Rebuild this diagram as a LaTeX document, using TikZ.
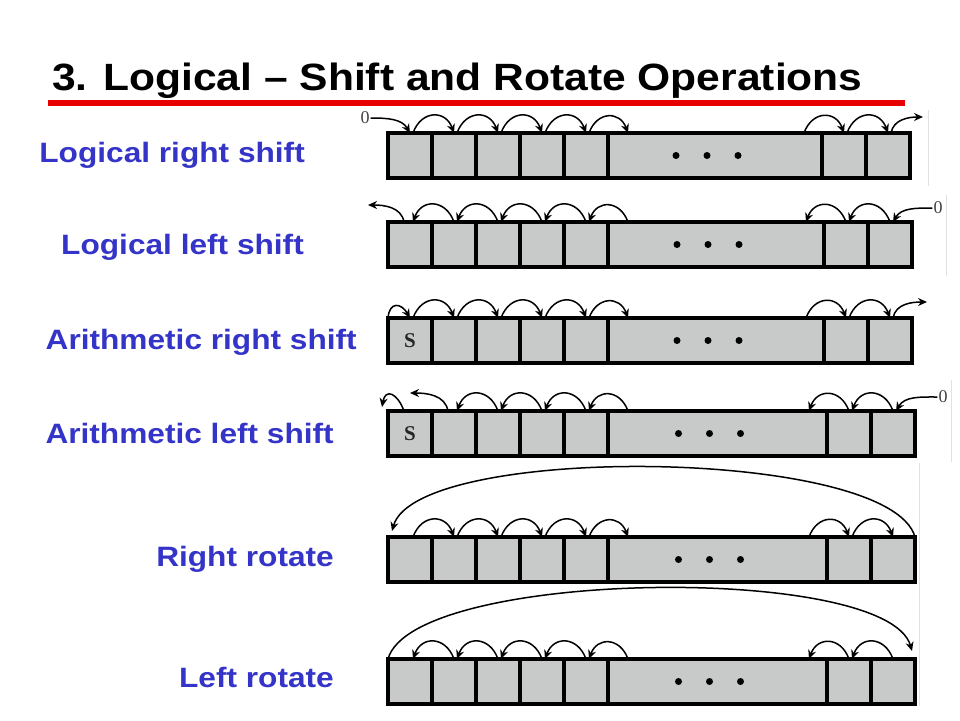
\documentclass[tikz,border=0pt]{standalone}
\usepackage{fontspec}
\setmainfont{Liberation Sans}
\newfontfamily\bitfont{Liberation Serif}
\usetikzlibrary{arrows.meta, positioning, calc}
\definecolor{labelblue}{HTML}{3434C8}
\definecolor{rulered}{HTML}{E60000}
\definecolor{cellgray}{HTML}{C8C9C9}
\definecolor{cropgray}{HTML}{E2E2E2}

\begin{document}
\begin{tikzpicture}[
    x=1pt, y=-1pt,
    cell/.style={rectangle, draw=black, fill=cellgray, line width=3.2pt,
                 minimum width=44pt, minimum height=45pt, inner sep=0pt,
                 outer sep=0pt, anchor=north west},
    op/.style={anchor=base east, inner sep=0pt, text=labelblue,
               font=\bfseries\fontsize{28}{30}\selectfont},
    bit/.style={-{Stealth[length=9pt, width=8pt]}, line width=1.5pt},
    hopright/.style={out=70, in=110, looseness=1.55},
    hopleft/.style={out=110, in=70, looseness=1.55},
    zero/.style={font=\bitfont\fontsize{18}{18}\selectfont, text=black!75, inner sep=1pt},
    signbit/.style={font=\bitfont\bfseries\fontsize{21}{21}\selectfont, text=black!85}
]
\useasboundingbox (0,0) rectangle (960,720);

\node[anchor=base west, inner sep=0pt, font=\bfseries\fontsize{38}{40}\selectfont] (title)
    at (52,90) {\scalebox{1.12}[1]{3. Logical – Shift and Rotate Operations}};
\draw[rulered, line width=6pt] (48,103) -- (905,103);

\node[op] (lrs) at (305,162) {\scalebox{1.13}[1]{Logical right shift}};
\node[op] (lls) at (304,254) {\scalebox{1.13}[1]{Logical left shift}};
\node[op] (ars) at (357,349) {\scalebox{1.13}[1]{Arithmetic right shift}};
\node[op] (als) at (334,443) {\scalebox{1.13}[1]{Arithmetic left shift}};
\node[op] (rrot) at (334,566) {\scalebox{1.13}[1]{Right rotate}};
\node[op] (lrot) at (334,687) {\scalebox{1.13}[1]{Left rotate}};

% registers
\foreach \row/\top/\w in {1/133/214, 2/222/216, 3/318/216, 4/411/219, 5/537/219, 6/659/219} {
  \node[cell] (r\row c1) at (388,\top) {};
  \foreach \c [remember=\c as \prev (initially 1)] in {2,...,5}
    \node[cell, right=0pt of r\row c\prev] (r\row c\c) {};
  \node[cell, minimum width=\w pt, right=0pt of r\row c5] (r\row big) {};
  \node[cell, right=0pt of r\row big] (r\row c6) {};
  \node[cell, right=0pt of r\row c6] (r\row c7) {};
  \foreach \d in {-39,-8,23}
    \fill ($(r\row big.center)+(\d,0)$) circle (3.5pt);
  \foreach \c in {1,...,5}
    \coordinate (r\row p\c) at (r\row c\c.north);
  \coordinate (r\row p6) at ($(r\row big.north west)+(20,0)$);
  \coordinate (r\row p7) at ($(r\row big.north east)+(-21,0)$);
  \coordinate (r\row p8) at (r\row c6.north);
  \coordinate (r\row p9) at (r\row c7.north);
}

\node[signbit] (s3) at (r3c1) {S};
\node[signbit] (s4) at (r4c1) {S};

% bits moving right
\foreach \row in {1,3,5}
  \foreach \a/\b in {1/2,2/3,3/4,4/5,5/6,7/8,8/9}
    \draw[bit] ($(r\row p\a)+(3,0)$) to[hopright] (r\row p\b);
% bits moving left
\foreach \row in {2,6}
  \foreach \a/\b in {2/1,3/2,4/3,5/4,6/5,8/7,9/8}
    \draw[bit] (r\row p\a) to[hopleft] ($(r\row p\b)+(3,0)$);
\foreach \a/\b in {3/2,4/3,5/4,6/5,8/7,9/8}
  \draw[bit] (r4p\a) to[hopleft] ($(r4p\b)+(3,0)$);

% logical right shift
\node[zero] (zero1) at (365,118) {0};
\coordinate (out1) at (923,117);
\draw[bit] (zero1.east) to[out=0, in=120] (r1p1);
\draw[bit] ($(r1p9)+(3,0)$) to[out=80, in=180] (out1);

% logical left shift
\node[zero] (zero2) at (938,208) {0};
\coordinate (out2) at (368,205);
\draw[bit] (zero2.west) to[out=180, in=60] ($(r2p9)+(3,0)$);
\draw[bit] ($(r2p1)+(-6,0)$) to[out=100, in=0] (out2);

% arithmetic right shift
\coordinate (out3) at (927,302);
\draw[bit] (r3c1.north west) to[out=85, in=120, looseness=2] (r3p1);
\draw[bit] ($(r3p9)+(3,0)$) to[out=80, in=180] (out3);

% arithmetic left shift
\node[zero] (zero4) at (943,397) {0};
\coordinate (out4) at (410,393);
\coordinate (back4) at ($(r4c1.north west)+(-6,-4)$);
\draw[bit] (zero4.west) to[out=180, in=60] ($(r4p9)+(3,0)$);
\draw[bit] ($(r4p1)+(-6,0)$) to[out=110, in=80, looseness=2.2] (back4);
\draw[bit] ($(r4p2)+(-6,0)$) to[out=100, in=0] (out4);

% rotations
\draw[bit] (r5c7.north east) .. controls +(-25,-90) and +(25,-88) .. ($(r5c1.north west)+(4,-6)$);
\draw[bit] (r6c1.north west) .. controls +(25,-90) and +(-25,-88) .. ($(r6c7.north east)+(-3,-8)$);

% crop edges of the pasted figures
\draw[cropgray, line width=1pt] (928,110) -- (928,186);
\draw[cropgray, line width=1pt] (946,195) -- (946,276);
\draw[cropgray, line width=1pt] (951,380) -- (951,462);
\draw[cropgray, line width=1pt] (919,463) -- (919,706);

\end{tikzpicture}
\end{document}
